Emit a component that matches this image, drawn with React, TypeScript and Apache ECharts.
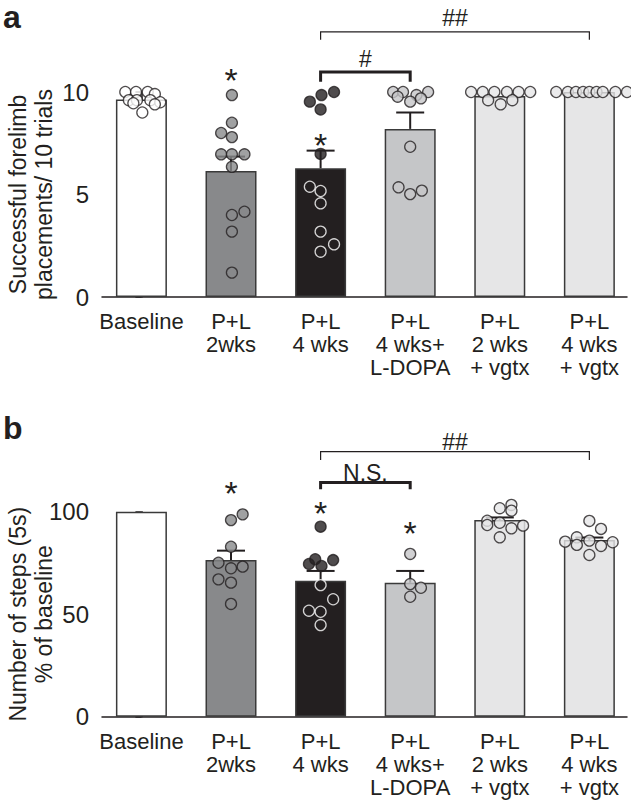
import React, { useEffect, useRef } from "react";
import * as echarts from "echarts";

const FONT = '"Liberation Sans", Arial, Helvetica, sans-serif';
const INK = "#231f20";

const categories = ["Baseline", "P+L\n2wks", "P+L\n4 wks", "P+L\n4 wks+\nL-DOPA", "P+L\n2 wks\n+ vgtx", "P+L\n4 wks\n+ vgtx"];
const barColors = ["#ffffff", "#88898b", "#231f20", "#c5c6c8", "#e6e6e7", "#e6e6e7"];

// Panel a: successful forelimb placements / 10 trials
const meansA = [9.64, 6.15, 6.28, 8.2, 9.8, 10];
const semA = [0, 0.7, 0.86, 0.8, 0, 0];
// [group, jitter, value]
const pointsA: number[][] = [
  [0, -0.18, 10], [0, -0.06, 10], [0, 0.07, 10], [0, 0.15, 9.9], [0, -0.14, 9.6], [0, -0.05, 9.6],
  [0, 0.1, 9.6], [0, 0.21, 9.5], [0, -0.09, 9.45], [0, 0.15, 9.4], [0, 0.01, 9.0],
  [1, 0.01, 9.85], [1, 0.01, 8.5], [1, -0.11, 8.0], [1, 0.01, 7.8], [1, -0.11, 6.96], [1, 0.01, 6.96],
  [1, 0.15, 6.96], [1, 0.01, 6.35], [1, 0.01, 4.0], [1, 0.15, 4.16], [1, 0.01, 3.19], [1, 0.01, 1.19],
  [2, -0.12, 9.53], [2, 0.01, 9.85], [2, 0.15, 10.0], [2, 0.0, 9.15], [2, 0.0, 6.98], [2, -0.12, 5.38],
  [2, 0.0, 5.17], [2, 0.0, 4.57], [2, 0.0, 3.19], [2, 0.0, 2.21], [2, 0.15, 2.57],
  [3, -0.19, 10], [3, -0.08, 10], [3, 0.2, 10], [3, -0.14, 9.77], [3, 0.07, 9.85], [3, 0.12, 9.69],
  [3, 0.0, 9.53], [3, 0.0, 7.33], [3, -0.13, 5.35], [3, 0.0, 5.02], [3, 0.13, 5.19],
  [4, -0.32, 10], [4, -0.19, 10], [4, -0.06, 10], [4, 0.08, 10], [4, 0.21, 10], [4, 0.34, 10],
  [4, -0.13, 9.6], [4, 0.01, 9.4], [4, 0.14, 9.6],
  [5, -0.37, 10], [5, -0.24, 10], [5, -0.15, 10], [5, -0.07, 10], [5, 0.0, 10], [5, 0.08, 10],
  [5, 0.15, 10], [5, 0.29, 10], [5, 0.42, 10],
];
const starsA: number[][] = [[1, 10.95], [2, 7.82]];
// [from, to, lineY, tickBottomY, lineWidth, labelY]
const bracketsA: number[][] = [[2, 5, 12.93, 12.55, 1.2, 13.6], [2, 3, 10.98, 10.5, 3, 11.6]];
const bracketLabelsA = ["##", "#"];

// Panel b: number of steps (5s), % of baseline
const meansB = [100, 76.4, 66.3, 65.4, 96, 86.2];
const semB = [0, 4.6, 4.8, 5.7, 1.2, 1.2];
const pointsB: number[][] = [
  [1, 0.0, 95.9], [1, 0.13, 98.7], [1, 0.0, 82.9], [1, -0.14, 75.1], [1, 0.0, 72.4], [1, 0.13, 73.2],
  [1, -0.14, 67], [1, 0.0, 65.4], [1, 0.0, 55],
  [2, 0.0, 92.7], [2, -0.13, 74.5], [2, -0.06, 76.8], [2, 0.01, 73.5], [2, 0.14, 76.4], [2, 0.0, 64.2],
  [2, 0.14, 57.3], [2, -0.13, 51.7], [2, 0.0, 51.2], [2, 0.0, 44.7],
  [3, 0.0, 79.4], [3, 0.0, 64.7], [3, 0.12, 62.9], [3, 0.0, 58.5],
  [4, 0.0, 101.7], [4, 0.13, 103.3], [4, 0.13, 100.5], [4, -0.14, 95.6], [4, -0.14, 93.5], [4, 0.0, 94.6],
  [4, 0.13, 91.9], [4, 0.26, 93.2], [4, 0.0, 87.5],
  [5, 0.0, 95.5], [5, 0.13, 91.6], [5, -0.27, 85.4], [5, -0.14, 87.5], [5, -0.14, 83.8], [5, 0.0, 85.9],
  [5, 0.13, 83.3], [5, 0.26, 85.1], [5, 0.0, 78.9],
];
const starsB: number[][] = [[1, 113], [2, 103.3], [3, 93.5]];
const bracketsB: number[][] = [[2, 5, 129.3, 125.2, 1.2, 134], [2, 3, 114.2, 110.9, 3, 119]];
const bracketLabelsB = ["##", "N.S."];

const yTitles = ["Successful forelimb\nplacements/ 10 trials", "Number of steps (5s)\n% of baseline"];

function scatterData(points: number[][], means: number[]) {
  return points.map(([g, dx, v]) => {
    const isBlack = g === 2;
    const inside = v <= means[g];
    return {
      value: [g + dx, v],
      itemStyle: {
        color: barColors[g],
        borderColor: isBlack && inside ? "#ffffff" : INK,
        borderWidth: 1.3,
      },
    };
  });
}

function panelSeries(idx: number, means: number[], sems: number[], points: number[][], stars: number[][], brackets: number[][], labels: string[]) {
  return [
    {
      type: "bar",
      xAxisIndex: idx,
      yAxisIndex: idx,
      barWidth: 51,
      z: 2,
      data: means.map((m, i) => ({ value: [i, m], itemStyle: { color: barColors[i], borderColor: "#3a3a3a", borderWidth: 1.5 } })),
    },
    {
      type: "custom",
      xAxisIndex: idx,
      yAxisIndex: idx,
      z: 3,
      clip: false,
      data: means.map((m, i) => [i, m, m + sems[i]]).filter((d, i) => sems[i] > 0),
      renderItem: (params: any, api: any) => {
        const p1 = api.coord([api.value(0), api.value(1)]);
        const p2 = api.coord([api.value(0), api.value(2)]);
        const st = { stroke: INK, lineWidth: 2 };
        return {
          type: "group",
          children: [
            { type: "line", shape: { x1: p1[0], y1: p1[1], x2: p2[0], y2: p2[1] }, style: st },
            { type: "line", shape: { x1: p2[0] - 14, y1: p2[1], x2: p2[0] + 14, y2: p2[1] }, style: st },
          ],
        };
      },
    },
    {
      type: "scatter",
      xAxisIndex: idx,
      yAxisIndex: idx,
      z: 4,
      clip: false,
      symbol: "circle",
      symbolSize: 11,
      data: scatterData(points, means),
    },
    {
      type: "custom",
      xAxisIndex: idx,
      yAxisIndex: idx,
      z: 5,
      clip: false,
      data: stars,
      renderItem: (params: any, api: any) => {
        const p = api.coord([api.value(0), api.value(1)]);
        return {
          type: "text",
          style: { text: "*", x: p[0], y: p[1] + 34 * 0.23, align: "center", verticalAlign: "middle", fontSize: 34, fontFamily: FONT, fill: INK },
        };
      },
    },
    {
      type: "custom",
      xAxisIndex: idx,
      yAxisIndex: idx,
      z: 5,
      clip: false,
      data: brackets,
      renderItem: (params: any, api: any) => {
        const a = api.coord([api.value(0), api.value(2)]);
        const b = api.coord([api.value(1), api.value(2)]);
        const yd = api.coord([api.value(0), api.value(3)])[1];
        const ly = api.coord([api.value(0), api.value(5)])[1];
        return {
          type: "group",
          children: [
            {
              type: "polyline",
              shape: { points: [[a[0], yd], [a[0], a[1]], [b[0], b[1]], [b[0], yd]] },
              style: { stroke: INK, lineWidth: api.value(4), fill: null },
            },
            {
              type: "text",
              style: { text: labels[params.dataIndex], x: (a[0] + b[0]) / 2, y: ly, align: "center", verticalAlign: "middle", fontSize: 23, fontFamily: FONT, fill: INK },
            },
          ],
        };
      },
    },
  ];
}

export default function App() {
  const ref = useRef<HTMLDivElement>(null);
  useEffect(() => {
    document.body.style.margin = "0";
    const chart = echarts.init(ref.current!, null, { renderer: "svg" });
    const grids = [
      { left: 102, top: 92, width: 525, height: 205, containLabel: false, outerBoundsMode: "none" },
      { left: 102, top: 511.7, width: 525, height: 205, containLabel: false, outerBoundsMode: "none" },
    ];
    const xAxis = [0, 1].map((g) => ({
      type: "value",
      gridIndex: g,
      min: -0.44,
      max: 5.42,
      axisLine: { show: true, onZero: false, lineStyle: { color: INK, width: 1.5 } },
      axisTick: { show: false },
      splitLine: { show: false },
      axisLabel: {
        customValues: [0, 1, 2, 3, 4, 5],
        formatter: (v: number) => categories[Math.round(v)],
        color: INK,
        fontFamily: FONT,
        fontSize: 22,
        lineHeight: 23,
        margin: 13,
      },
    }));
    const yMax = [10, 100];
    const yAxis = [0, 1].map((g) => ({
      type: "value",
      gridIndex: g,
      min: 0,
      max: yMax[g],
      interval: yMax[g] / 4,
      axisLine: { show: true, lineStyle: { color: INK, width: 1.5 } },
      axisTick: { show: true, length: 6, lineStyle: { color: INK, width: 1.5 } },
      splitLine: { show: false },
      axisLabel: {
        formatter: (v: number) => (v % (yMax[g] / 2) === 0 ? String(v) : ""),
        color: INK,
        fontFamily: FONT,
        fontSize: 24,
        margin: 13,
      },
      name: yTitles[g],
      nameLocation: "middle",
      nameGap: 45,
      nameMoveOverlap: false,
      nameTextStyle: { color: INK, fontFamily: FONT, fontSize: 23, lineHeight: 26 },
    }));
    chart.setOption({
      animation: false,
      backgroundColor: "#ffffff",
      grid: grids,
      xAxis,
      yAxis,
      graphic: [
        { type: "text", left: 3, top: 1, style: { text: "a", fontSize: 32, fontWeight: "bold", fontFamily: FONT, fill: INK } },
        { type: "text", left: 3, top: 412, style: { text: "b", fontSize: 32, fontWeight: "bold", fontFamily: FONT, fill: INK } },
      ],
      series: [
        ...panelSeries(0, meansA, semA, pointsA, starsA, bracketsA, bracketLabelsA),
        ...panelSeries(1, meansB, semB, pointsB, starsB, bracketsB, bracketLabelsB),
      ],
    });
    return () => chart.dispose();
  }, []);
  return <div ref={ref} style={{ width: 631, height: 805 }} />;
}
